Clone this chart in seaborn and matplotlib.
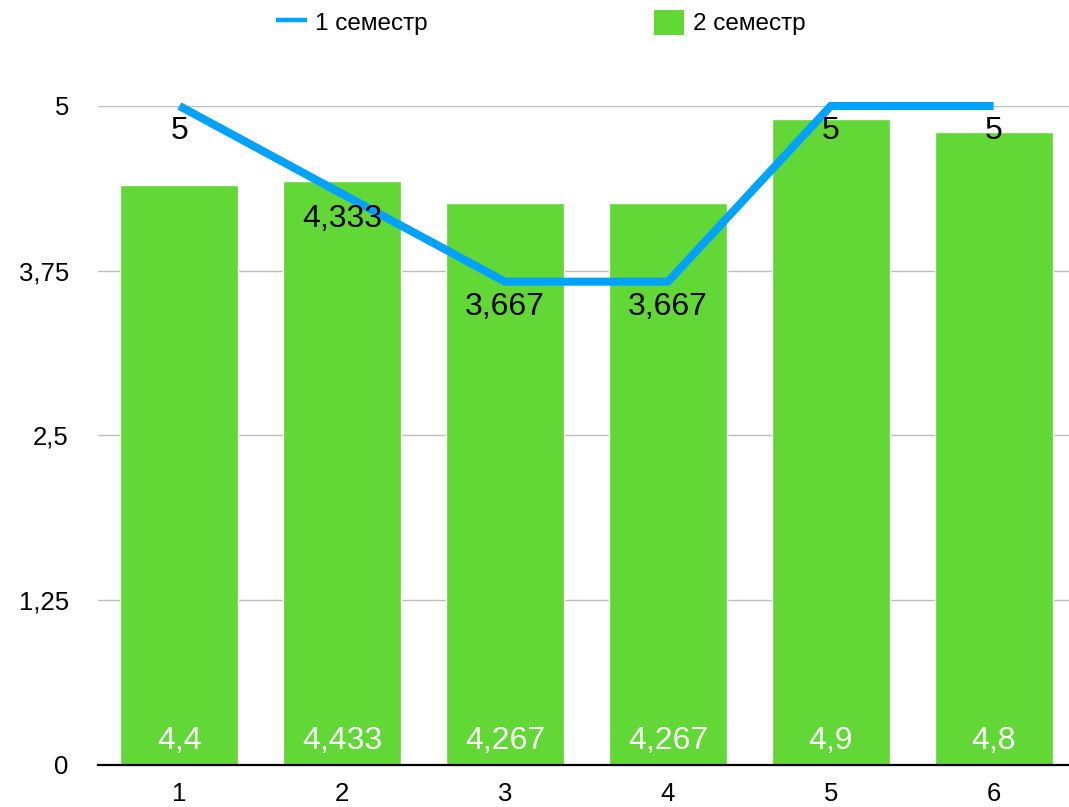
import matplotlib
matplotlib.use("Agg")
import matplotlib.pyplot as plt
import seaborn as sns
import numpy as np
from matplotlib.lines import Line2D
from matplotlib.patches import Patch

categories = ["1", "2", "3", "4", "5", "6"]
sem1 = [5, 4.333, 3.667, 3.667, 5, 5]
sem2 = [4.4, 4.433, 4.267, 4.267, 4.9, 4.8]
sem1_labels = ["5", "4,333", "3,667", "3,667", "5", "5"]
sem2_labels = ["4,4", "4,433", "4,267", "4,267", "4,9", "4,8"]
yticks = [0, 1.25, 2.5, 3.75, 5]
ytick_labels = ["0", "1,25", "2,5", "3,75", "5"]
legend_names = ["1 семестр", "2 семестр"]

BLUE = "#00A2FF"
GREEN = "#61D836"

sns.set_theme(style="white")
plt.rcParams['font.family'] = ['Liberation Sans', 'DejaVu Sans']

fig = plt.figure(figsize=(10.69, 8.07), dpi=100)
ax = fig.add_axes([98 / 1069, 42 / 807, 977 / 1069, 659 / 807])

sns.barplot(x=categories, y=sem2, color=GREEN, saturation=1, width=0.725,
            ax=ax, zorder=2)
pos = np.arange(len(categories))
sns.lineplot(x=pos, y=sem1, color=BLUE, lw=5.8, ax=ax, zorder=3,
             solid_capstyle="butt", solid_joinstyle="miter", clip_on=False,
             legend=False)

ax.set_ylim(0, 5)
ax.set_xlim(-0.5, 5.5)
ax.set_yticks(yticks)
ax.set_yticklabels(ytick_labels)
ax.tick_params(axis="y", length=0, pad=21, labelsize=18.5)
ax.tick_params(axis="x", length=0, pad=12, labelsize=18.5)
for lab in ax.get_yticklabels():
    lab.set_color("black")
for lab in ax.get_xticklabels():
    lab.set_color("black")
ax.grid(axis="y", color="#bdbdbd", lw=1, zorder=0)
ax.set_axisbelow(True)
for s in ["top", "right", "left"]:
    ax.spines[s].set_visible(False)
ax.spines["bottom"].set_color("black")
ax.spines["bottom"].set_linewidth(1.6)
ax.spines["bottom"].set_zorder(5)
ax.set_xlabel("")
ax.set_ylabel("")

for i, (v, t) in enumerate(zip(sem1, sem1_labels)):
    ax.annotate(t, (i, v), xytext=(0, -18), textcoords="offset points",
                ha="center", va="center", fontsize=23, color="black", zorder=6)
for i, t in enumerate(sem2_labels):
    ax.annotate(t, (i, 0), xytext=(0, 17.5), textcoords="offset points",
                ha="center", va="center", fontsize=23, color="white", zorder=6)

handles = [Line2D([0], [0], color=BLUE, lw=3.2, solid_capstyle="butt"),
           Patch(facecolor=GREEN, edgecolor="none")]
fig.legend(handles, legend_names, loc="center", bbox_to_anchor=(0.506, 0.972),
           ncol=2, frameon=False, fontsize=17.5, handlelength=1.25,
           handleheight=1.2, handletextpad=0.35, columnspacing=9.3,
           labelcolor="black")

fig.savefig("out.png", dpi=100)
